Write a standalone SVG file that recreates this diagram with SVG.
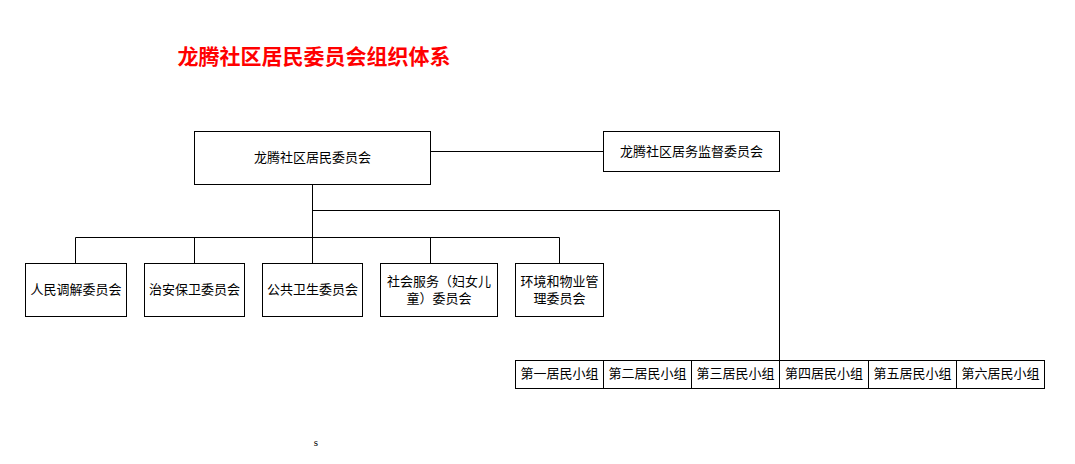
<svg xmlns="http://www.w3.org/2000/svg" width="1075" height="464" viewBox="0 0 1075 464">
<style>
rect{fill:#fff;stroke:#000;stroke-width:1}
text{font-family:"Liberation Serif","Noto Sans CJK SC",serif;font-size:13px;text-anchor:middle;fill:#000}
.c line{stroke:#000;stroke-width:1}
</style>
<rect x="0" y="0" width="1075" height="464" style="stroke:none"/>
<text x="314" y="64" style="font-size:21px;font-weight:bold;fill:#f00;font-family:'Noto Sans CJK SC',sans-serif">龙腾社区居民委员会组织体系</text>
<g class="c">
<line x1="430.5" y1="151.5" x2="603.5" y2="151.5"/>
<line x1="312.5" y1="184.5" x2="312.5" y2="263.5"/>
<line x1="312.5" y1="210.5" x2="779.5" y2="210.5"/>
<line x1="779.5" y1="210.5" x2="779.5" y2="360.5"/>
<line x1="75.5" y1="237.5" x2="559.5" y2="237.5"/>
<line x1="75.5" y1="237.5" x2="75.5" y2="263.5"/>
<line x1="194.5" y1="237.5" x2="194.5" y2="263.5"/>
<line x1="430.5" y1="237.5" x2="430.5" y2="263.5"/>
<line x1="559.5" y1="237.5" x2="559.5" y2="263.5"/>
</g>
<g id="n0"><rect x="194.5" y="131.5" width="236" height="53"/><text x="312.5" y="162">龙腾社区居民委员会</text></g>
<g id="n1"><rect x="603.5" y="131.5" width="176" height="40"/><text x="691.5" y="156">龙腾社区居务监督委员会</text></g>
<g id="n2"><rect x="25.5" y="263.5" width="101" height="53"/><text x="76" y="294">人民调解委员会</text></g>
<g id="n3"><rect x="144.5" y="263.5" width="100" height="53"/><text x="194.5" y="294">治安保卫委员会</text></g>
<g id="n4"><rect x="262.5" y="263.5" width="100" height="53"/><text x="312.5" y="294">公共卫生委员会</text></g>
<g id="n5"><rect x="380.5" y="263.5" width="117" height="53"/><text x="439" y="286">社会服务（妇女儿</text><text x="439" y="303">童）委员会</text></g>
<g id="n6"><rect x="515.5" y="263.5" width="88" height="53"/><text x="559.5" y="286">环境和物业管</text><text x="559.5" y="303">理委员会</text></g>
<g id="g1"><rect x="515.5" y="360.5" width="88" height="28"/><text x="559.5" y="378">第一居民小组</text></g>
<g id="g2"><rect x="603.5" y="360.5" width="88" height="28"/><text x="647.5" y="378">第二居民小组</text></g>
<g id="g3"><rect x="691.5" y="360.5" width="88" height="28"/><text x="735.5" y="378">第三居民小组</text></g>
<g id="g4"><rect x="779.5" y="360.5" width="89" height="28"/><text x="824" y="378">第四居民小组</text></g>
<g id="g5"><rect x="868.5" y="360.5" width="88" height="28"/><text x="912.5" y="378">第五居民小组</text></g>
<g id="g6"><rect x="956.5" y="360.5" width="88" height="28"/><text x="1000.5" y="378">第六居民小组</text></g>
<text x="316" y="446" style="font-size:11px">s</text>
</svg>
